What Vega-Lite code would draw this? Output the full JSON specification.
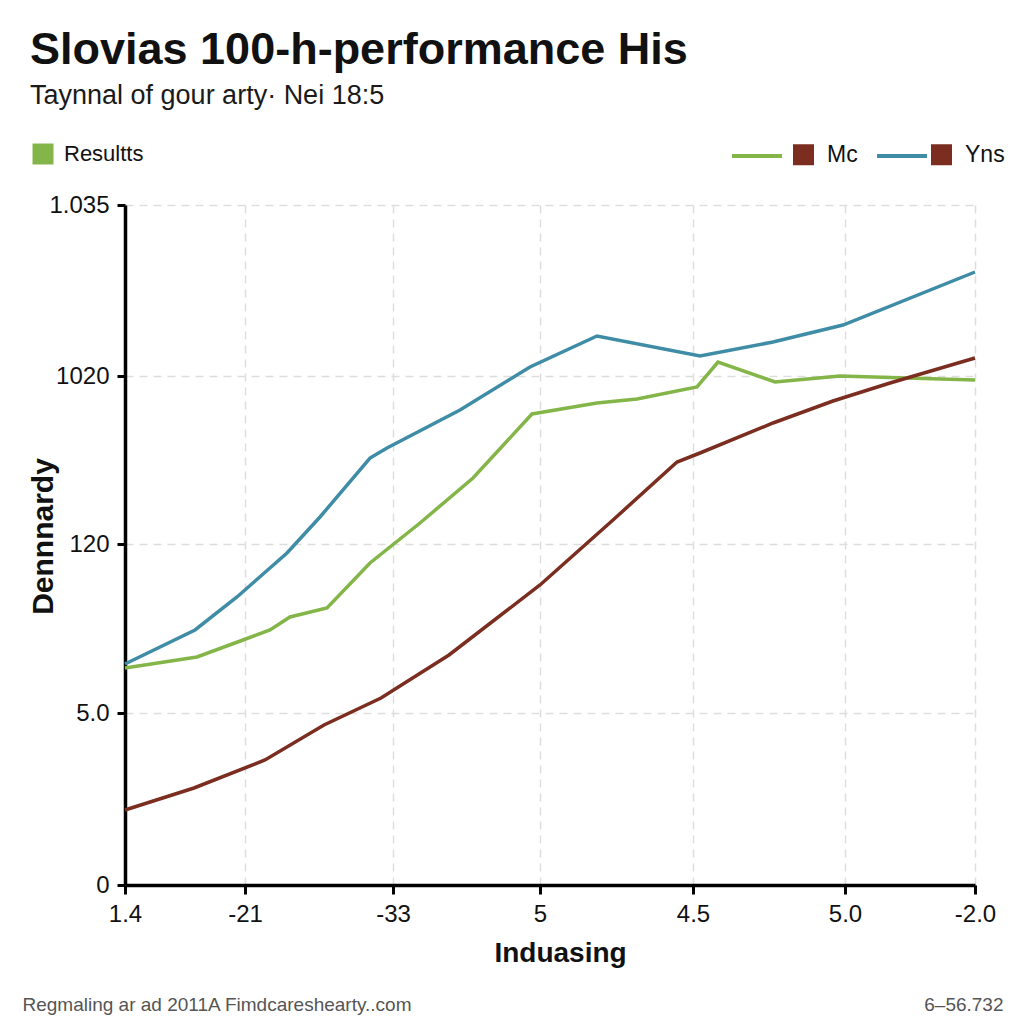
{
  "$schema": "https://vega.github.io/schema/vega-lite/v6.json",
  "autosize": {"type": "none"},
  "width": 850,
  "height": 680,
  "padding": {"left": 125, "top": 205, "right": 49, "bottom": 139},
  "background": "white",
  "title": {
    "text": "Slovias 100-h-performance His",
    "subtitle": "Taynnal of gour arty\u00b7 Nei 18:5",
    "anchor": "start",
    "frame": "group",
    "dx": -95,
    "font": "Liberation Sans",
    "fontSize": 45,
    "fontWeight": "bold",
    "color": "#111111",
    "subtitleFont": "Liberation Sans",
    "subtitleFontSize": 27,
    "subtitleColor": "#1a1a1a",
    "subtitlePadding": 10,
    "offset": 20
  },
  "config": {
    "view": {"stroke": null},
    "font": "Liberation Sans"
  },
  "data": {
    "values": [
      {"series": "Yns", "x": 0, "y": 221},
      {"series": "Yns", "x": 70, "y": 255},
      {"series": "Yns", "x": 112, "y": 288},
      {"series": "Yns", "x": 162, "y": 332},
      {"series": "Yns", "x": 195, "y": 368},
      {"series": "Yns", "x": 245, "y": 427},
      {"series": "Yns", "x": 262, "y": 437},
      {"series": "Yns", "x": 335, "y": 475},
      {"series": "Yns", "x": 405, "y": 518},
      {"series": "Yns", "x": 472, "y": 549},
      {"series": "Yns", "x": 575, "y": 529},
      {"series": "Yns", "x": 648, "y": 543},
      {"series": "Yns", "x": 718, "y": 560},
      {"series": "Yns", "x": 850, "y": 613},
      {"series": "Mc", "x": 0, "y": 217},
      {"series": "Mc", "x": 72, "y": 228},
      {"series": "Mc", "x": 118, "y": 245},
      {"series": "Mc", "x": 145, "y": 255},
      {"series": "Mc", "x": 165, "y": 268},
      {"series": "Mc", "x": 202, "y": 277},
      {"series": "Mc", "x": 245, "y": 322},
      {"series": "Mc", "x": 295, "y": 362},
      {"series": "Mc", "x": 348, "y": 407},
      {"series": "Mc", "x": 407, "y": 471},
      {"series": "Mc", "x": 472, "y": 482},
      {"series": "Mc", "x": 512, "y": 486},
      {"series": "Mc", "x": 572, "y": 498},
      {"series": "Mc", "x": 593, "y": 523},
      {"series": "Mc", "x": 650, "y": 503},
      {"series": "Mc", "x": 715, "y": 509},
      {"series": "Mc", "x": 782, "y": 507},
      {"series": "Mc", "x": 850, "y": 505},
      {"series": "Base", "x": 0, "y": 75},
      {"series": "Base", "x": 69, "y": 97},
      {"series": "Base", "x": 140, "y": 125},
      {"series": "Base", "x": 199, "y": 160},
      {"series": "Base", "x": 256, "y": 187},
      {"series": "Base", "x": 324, "y": 230},
      {"series": "Base", "x": 415, "y": 300},
      {"series": "Base", "x": 488, "y": 365},
      {"series": "Base", "x": 552, "y": 423},
      {"series": "Base", "x": 575, "y": 432},
      {"series": "Base", "x": 648, "y": 462},
      {"series": "Base", "x": 708, "y": 484},
      {"series": "Base", "x": 765, "y": 502},
      {"series": "Base", "x": 850, "y": 527}
    ]
  },
  "layer": [
    {
      "mark": {"type": "line", "strokeWidth": 3.5, "strokeJoin": "miter"},
      "encoding": {
        "x": {
          "field": "x", "type": "quantitative",
          "scale": {"domain": [0, 850], "nice": false, "zero": false},
          "axis": {
            "values": [0, 120, 268, 415, 568, 720, 850],
            "labelExpr": "datum.value == 0 ? '1.4' : datum.value == 120 ? '-21' : datum.value == 268 ? '-33' : datum.value == 415 ? '5' : datum.value == 568 ? '4.5' : datum.value == 720 ? '5.0' : '-2.0'",
            "labelFont": "Liberation Sans", "labelFontSize": 24, "labelColor": "#111111", "labelPadding": 8,
            "labelFlush": false, "labelOverlap": false,
            "domainColor": "#000000", "domainWidth": 3.5,
            "tickColor": "#000000", "tickWidth": 3, "tickSize": 9,
            "grid": true, "gridColor": "#dddddd", "gridDash": [8, 6], "gridWidth": 1.5,
            "title": "Induasing", "titleFont": "Liberation Sans", "titleFontSize": 28, "titleFontWeight": "bold", "titleColor": "#111111",
            "titleX": 435, "titleY": 68, "titleBaseline": "middle", "titleAlign": "center"
          }
        },
        "y": {
          "field": "y", "type": "quantitative",
          "scale": {"domain": [0, 680], "nice": false, "zero": false},
          "axis": {
            "values": [0, 172, 341, 509, 680],
            "labelExpr": "datum.value == 0 ? '0' : datum.value == 172 ? '5.0' : datum.value == 341 ? '120' : datum.value == 509 ? '1020' : '1.035'",
            "labelFont": "Liberation Sans", "labelFontSize": 24, "labelColor": "#111111", "labelPadding": 8,
            "labelFlush": false, "labelOverlap": false,
            "domainColor": "#000000", "domainWidth": 3.5,
            "tickColor": "#000000", "tickWidth": 3, "tickSize": 8,
            "grid": true, "gridColor": "#dddddd", "gridDash": [8, 6], "gridWidth": 1.5,
            "title": "Dennnardy", "titleFont": "Liberation Sans", "titleFontSize": 30, "titleFontWeight": "bold", "titleColor": "#111111",
            "titleX": -82, "titleY": 331, "titleAngle": 270, "titleBaseline": "middle", "titleAlign": "center"
          }
        },
        "color": {
          "field": "series", "type": "nominal",
          "scale": {"domain": ["Mc", "Yns", "Base"], "range": ["#84b548", "#3f8ca6", "#7b2d20"]},
          "legend": {
            "values": ["Mc", "Yns"],
            "orient": "none", "legendX": 605, "legendY": -76,
            "direction": "horizontal", "title": null, "padding": 0,
            "symbolType": "stroke", "symbolSize": 2500, "symbolStrokeWidth": 4,
            "labelExpr": "''", "labelOffset": 0, "columnPadding": 79
          }
        }
      }
    },
    {
      "mark": {"type": "point", "filled": true, "size": 0},
      "encoding": {
        "x": {
          "field": "x", "type": "quantitative",
          "axis": {
            "orient": "top", "labels": false, "ticks": false, "domain": false, "grid": false,
            "title": "Regmaling ar ad 2011A Fimdcareshearty..com",
            "titleFont": "Liberation Sans", "titleFontSize": 19, "titleFontWeight": "normal", "titleColor": "#555555",
            "titleX": -103, "titleY": 805, "titleAlign": "left", "titleBaseline": "alphabetic", "titleAngle": 0
          }
        },
        "y": {
          "field": "y", "type": "quantitative",
          "axis": {
            "orient": "right", "labels": false, "ticks": false, "domain": false, "grid": false,
            "title": "6\u201356.732",
            "titleFont": "Liberation Sans", "titleFontSize": 19, "titleFontWeight": "normal", "titleColor": "#555555",
            "titleX": 28, "titleY": 805, "titleAlign": "right", "titleBaseline": "alphabetic", "titleAngle": 0
          }
        },
        "fill": {
          "field": "series", "type": "nominal",
          "scale": {"domain": ["Mc", "Yns"], "range": ["#7b2d20", "#7b2d20"]},
          "legend": {
            "orient": "none", "legendX": 667, "legendY": -62,
            "direction": "horizontal", "title": null, "padding": 0,
            "symbolType": "square", "symbolSize": 441, "symbolStrokeWidth": 0, "symbolOpacity": 1,
            "labelFont": "Liberation Sans", "labelFontSize": 23, "labelColor": "#111111",
            "labelOffset": 12, "columnPadding": 72
          }
        },
        "shape": {
          "field": "series", "type": "nominal",
          "scale": {"domain": ["Resultts"], "range": ["square"]},
          "legend": {
            "orient": "none", "legendX": -93, "legendY": -62,
            "direction": "horizontal", "title": null, "padding": 0,
            "symbolSize": 441, "symbolStrokeWidth": 0, "symbolOpacity": 1,
            "symbolFillColor": "#84b548",
            "labelFont": "Liberation Sans", "labelFontSize": 22, "labelColor": "#111111",
            "labelOffset": 10,
            "encode": {"symbols": {"update": {"fill": {"value": "#84b548"}, "stroke": {"value": "#84b548"}, "opacity": {"value": 1}}}}
          }
        }
      }
    }
  ],
  "resolve": {"axis": {"x": "independent", "y": "independent"}}
}
